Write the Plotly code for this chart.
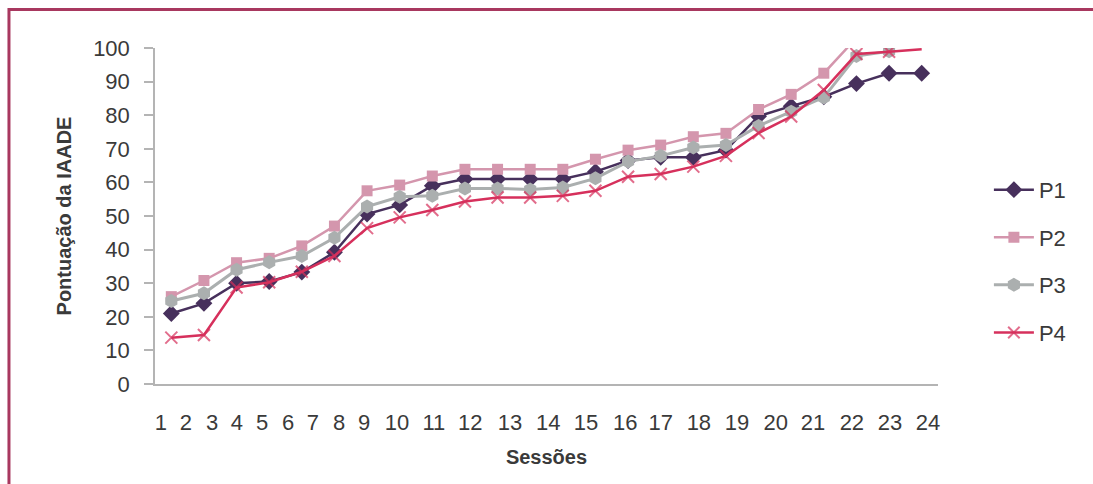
import plotly.graph_objects as go

# Session index (1..24) and IAADE scores per participant
sessions = list(range(1, 25))

p1 = [21, 24, 30, 30.5, 33.3, 39.2, 50.6, 53.3, 59, 61, 61, 61, 61, 63.2,
      66.5, 67.5, 67.5, 69.6, 79.7, 82.7, 85.5, 89.4, 92.5, 92.5]
p2 = [26, 30.8, 36.1, 37.4, 41.1, 47, 57.5, 59.2, 61.9, 63.9, 63.9, 63.9, 63.9, 66.9,
      69.6, 71.1, 73.6, 74.6, 81.7, 86.2, 92.5, 103, None, None]
p3 = [24.7, 27, 34, 36.2, 38.1, 43.5, 52.8, 55.7, 56, 58.2, 58.2, 57.9, 58.5, 61.2,
      66.2, 67.9, 70.4, 71.1, 76.8, 81, 85.3, 97.6, 99, None]
p4 = [13.8, 14.6, 28.7, 30.3, 33.4, 38.1, 46.4, 49.6, 51.8, 54.3, 55.5, 55.5, 56, 57.5,
      61.7, 62.5, 64.7, 67.9, 74.7, 79.6, 87.5, 98.2, 98.9, 99.6]

tick_labels = [str(s) for s in sessions]
y_ticks = list(range(0, 101, 10))

# where the session numbers sit along the horizontal axis
tick_label_pos = [0.68, 1.45, 2.25, 3.01, 3.78, 4.58, 5.34, 6.14, 6.91, 7.92, 9.05, 10.16,
                  11.38, 12.55, 13.71, 14.91, 16.0, 17.17, 18.34, 19.53, 20.67, 21.86,
                  23.03, 24.19]

FONT = "Liberation Sans, Arial, sans-serif"
TEXT = "#3a3a3a"
AXIS = "#b4b4b4"

fig = go.Figure()

fig.add_trace(go.Scatter(
    x=sessions, y=p1, name="P1", mode="lines+markers",
    line=dict(color="#47305c", width=2.5),
    marker=dict(symbol="diamond", size=13, color="#47305c"),
    legendgroup="P1",
))
fig.add_trace(go.Scatter(
    x=sessions, y=p2, name="P2", mode="lines+markers",
    line=dict(color="#d496ad", width=2.5),
    marker=dict(symbol="square", size=11, color="#d496ad"),
    legendgroup="P2",
))
fig.add_trace(go.Scatter(
    x=sessions, y=p3, name="P3", mode="lines+markers",
    line=dict(color="#abafaf", width=3),
    marker=dict(symbol="hexagon", size=14, color="#abafaf"),
    legendgroup="P3",
))
p4_sizes = [12] * (len(p4) - 1) + [0]
fig.add_trace(go.Scatter(
    x=sessions, y=p4, name="P4", mode="lines+markers",
    line=dict(color="#d6305c", width=2.5),
    marker=dict(symbol="x-thin", size=p4_sizes, color="#d6305c",
                line=dict(color="#d6305c", width=2)),
    legendgroup="P4",
))

# outer frame
fig.add_shape(type="rect", xref="paper", yref="paper",
              x0=-0.1865, x1=1.21, y0=-0.33, y1=1.1146,
              line=dict(color="#a8385f", width=3), fillcolor="rgba(0,0,0,0)",
              layer="below")

fig.update_layout(
    width=1093, height=484,
    margin=dict(l=155, r=155, t=48, b=100),
    paper_bgcolor="white", plot_bgcolor="white",
    font=dict(family=FONT, size=22, color=TEXT),
    showlegend=True,
    legend=dict(
        x=1.065, y=0.365, xanchor="left", yanchor="middle",
        font=dict(family=FONT, size=22, color=TEXT),
        traceorder="grouped", tracegroupgap=16,
        itemwidth=40, bgcolor="rgba(0,0,0,0)",
    ),
    xaxis=dict(
        range=[0.5, 24.5], showgrid=False, zeroline=False,
        showline=True, linecolor=AXIS, linewidth=1.5,
        ticks="", tickmode="array", tickvals=tick_label_pos, ticktext=tick_labels,
        tickfont=dict(family=FONT, size=22, color=TEXT),
        ticklabelstandoff=18,
        title=dict(text="<b>Sessões</b>", font=dict(family=FONT, size=20, color=TEXT),
                   standoff=16),
    ),
    yaxis=dict(
        range=[0, 100], showgrid=False, zeroline=False,
        showline=True, linecolor=AXIS, linewidth=1.5,
        ticks="outside", ticklen=9, tickcolor=AXIS, tickwidth=1.5,
        tickmode="array", tickvals=y_ticks,
        tickfont=dict(family=FONT, size=22, color=TEXT),
        ticklabelstandoff=10,
        title=dict(text="<b>Pontuação da IAADE</b>",
                   font=dict(family=FONT, size=20, color=TEXT), standoff=16),
    ),
)

fig.write_html("out.html")
